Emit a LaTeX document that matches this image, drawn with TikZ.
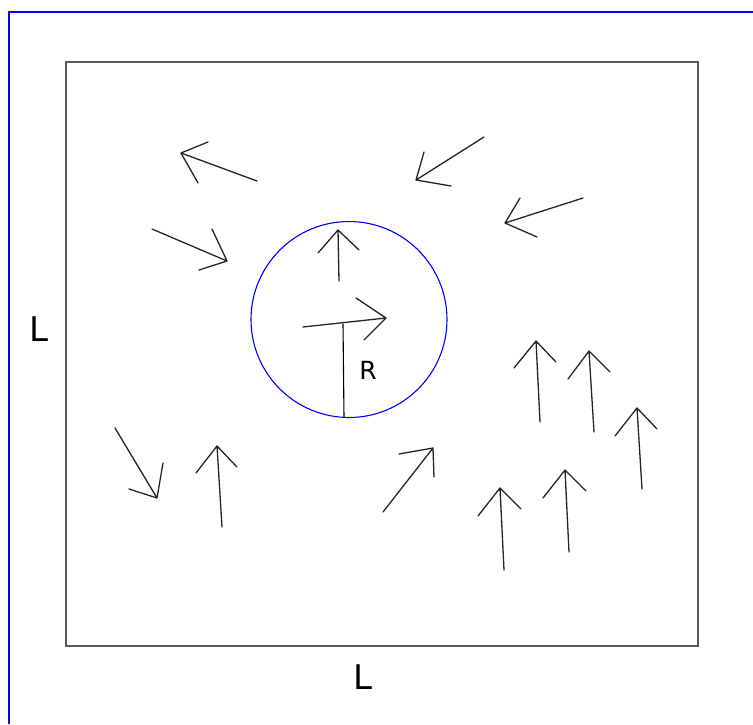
\documentclass[tikz,border=0pt]{standalone}
\usepackage{fontspec}
\setmainfont{DejaVu Sans}
\begin{document}
\begin{tikzpicture}[x=1pt,y=-1pt,
  vec/.style={draw=black!85,line width=1.3pt,line join=round,line cap=round},
  frameline/.style={draw=blue,line width=1.3pt},
  boxline/.style={draw=black!65,line width=1.5pt},
  lbl/.style={font=\fontsize{34}{36}\selectfont,inner sep=0pt},
  rlbl/.style={font=\fontsize{25}{27}\selectfont,inner sep=0pt}]
\useasboundingbox (0,0) rectangle (753,724);
\fill[white] (0,0) rectangle (753,724);
% outer frame
\coordinate (fA) at (9,724);
\coordinate (fB) at (9,12);
\coordinate (fC) at (753,12);
\draw[frameline] (fA) -- (fB) -- (fC);
% box
\coordinate (b1) at (66,62);
\coordinate (b2) at (698,646);
\draw[boxline] (b1) rectangle (b2);
% circle
\coordinate (cc) at (349,319.5);
\draw[blue,line width=1.1pt] (cc) circle[radius=98];
% arrows
\newcommand\flowarrow[5]{%
  \coordinate (#1t) at #2; \coordinate (#1p) at #3;
  \coordinate (#1a) at #4; \coordinate (#1b) at #5;
  \draw[vec] (#1t) -- (#1p) (#1a) -- (#1p) -- (#1b);}
\flowarrow{a1}{(257,181)}{(181,153)}{(208,142)}{(198,183)}
\flowarrow{a2}{(152,229)}{(227,261)}{(212,229)}{(199,270)}
\flowarrow{a3}{(484,137)}{(416,180)}{(424,152)}{(451,186)}
\flowarrow{a4}{(583,198)}{(505,223)}{(520,198)}{(537,237)}
\flowarrow{a5}{(115,428)}{(157,498)}{(163,463)}{(129,489)}
\flowarrow{a6}{(222,527)}{(217,446)}{(196,473)}{(237,467)}
\flowarrow{a7}{(383,512)}{(433,448)}{(399,454)}{(434,477)}
\flowarrow{a8}{(540,422)}{(536,341)}{(514,368)}{(556,362)}
\flowarrow{a9}{(594,432)}{(589,351)}{(568,379)}{(610,372)}
\flowarrow{a10}{(642,489)}{(637,408)}{(615,436)}{(657,429)}
\flowarrow{a11}{(504,570)}{(500,488)}{(478,516)}{(521,509)}
\flowarrow{a12}{(569,552)}{(565,470)}{(543,498)}{(586,491)}
\flowarrow{a13}{(339,281)}{(338,230)}{(318,253)}{(359,250)}
\flowarrow{a14}{(303,327)}{(386,318)}{(356,298)}{(364,340)}
% radius
\coordinate (r1) at (343,323.5);
\coordinate (r2) at (344,417);
\draw[black,line width=1.1pt] (r1) -- (r2);
% labels
\node[lbl] (Lleft) at (39,329) {L};
\node[lbl] (Lbot) at (363,677) {L};
\node[rlbl] (Rlab) at (368,370) {R};
\end{tikzpicture}
\end{document}
